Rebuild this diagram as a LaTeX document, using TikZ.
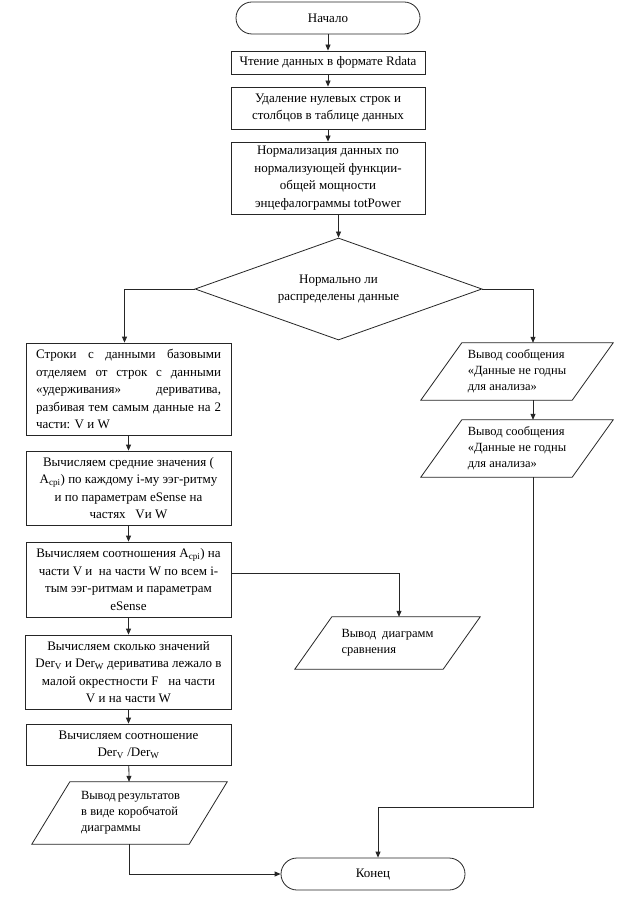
\documentclass[tikz,border=0pt]{standalone}
\usepackage{fontspec}
\setmainfont{Liberation Serif}
\usetikzlibrary{arrows.meta,shapes.geometric,calc}
\begin{document}
\begin{tikzpicture}[x=1pt,y=-1pt,
  font=\fontsize{13}{17.5}\selectfont,
  base/.style={draw=black!85, line width=0.8pt},
  proc/.style={base, rectangle, inner xsep=5pt, inner ysep=0pt, align=center, minimum width=194pt},
  lproc/.style={base, rectangle, inner xsep=10pt, inner ysep=0pt, align=center, minimum width=205pt},
  term/.style={base, rectangle, rounded corners=16pt, minimum width=184pt, minimum height=32pt},
  io/.style={rectangle, inner sep=0pt, align=left, font=\fontsize{12.5}{16}\selectfont},
  arr/.style={draw=black!85, line width=0.8pt, -{Triangle[length=6pt,width=5pt]}}
]
\fill[white] (0,0) rectangle (624,901);
\useasboundingbox (0,0) rectangle (624,901);

% top column
\node[term] (start) at (328,18) {Начало};
\node[proc, minimum height=23pt] (b1) at (328,62.5) {Чтение данных в формате Rdata};
\node[proc, minimum height=42pt] (b2) at (328,108) {Удаление нулевых строк и\\столбцов в таблице данных};
\node[proc, minimum height=72pt] (b3) at (328,178) {Нормализация данных по\\нормализующей функции-\\общей мощности\\энцефалограммы totPower};
\node[base, diamond, minimum width=287pt, minimum height=102pt, inner sep=0pt, aspect=2.8, align=center] (dec) at (338.5,289) {Нормально ли\\распределены данные};

% left column
\node[lproc, minimum height=92pt, align=left] (L1) at (128.5,389)
  {\makebox[185pt][s]{Строки с данными базовыми}\\
   \makebox[185pt][s]{отделяем от строк с данными}\\
   \makebox[185pt][s]{«удерживания» дериватива,}\\
   \makebox[185pt][s]{разбивая тем самым данные на 2}\\
   части: V и W};
\node[lproc, minimum height=74pt] (L2) at (128.5,488)
  {Вычисляем средние значения (\\A\textsubscript{срi}) по каждому i-му ээг-ритму\\и по параметрам eSense на\\частях\ \ \ Vи W};
\node[lproc, minimum height=75pt] (L3) at (128.5,579.5)
  {Вычисляем соотношения A\textsubscript{срi}) на\\части V и\ \ на части W по всем i-\\тым ээг-ритмам и параметрам\\eSense};
\node[lproc, minimum height=74pt] (L4) at (128.5,672)
  {Вычисляем сколько значений\\Der\textsubscript{V} и Der\textsubscript{W} дериватива лежало в\\малой окрестности F\ \ \ на части\\V и на части W};
\node[lproc, minimum height=41pt] (L5) at (128.5,744.5)
  {Вычисляем соотношение\\Der\textsubscript{V} /Der\textsubscript{W}};
\node[io, minimum width=195pt, minimum height=62pt] (LP) at (129.5,813)
  {\makebox[97pt][s]{Вывод результатов}\\
   \makebox[97pt][s]{в виде коробчатой}\\
   диаграммы};
\draw[base] ([xshift=38pt]LP.north west) -- (LP.north east) -- ([xshift=-38pt]LP.south east) -- (LP.south west) -- cycle;

% right column
\node[io, minimum width=192pt, minimum height=57pt] (R1) at (517,371.5)
  {Вывод сообщения\\«Данные не годны\\для анализа»};
\draw[base] ([xshift=41pt]R1.north west) -- (R1.north east) -- ([xshift=-41pt]R1.south east) -- (R1.south west) -- cycle;
\node[io, minimum width=192pt, minimum height=57pt] (R2) at (517,448.5)
  {Вывод сообщения\\«Данные не годны\\для анализа»};
\draw[base] ([xshift=41pt]R2.north west) -- (R2.north east) -- ([xshift=-41pt]R2.south east) -- (R2.south west) -- cycle;

% comparison output
\node[io, minimum width=185pt, minimum height=52pt] (C) at (387.5,643)
  {\makebox[92pt][s]{Вывод диаграмм}\\сравнения};
\draw[base] ([xshift=37pt]C.north west) -- (C.north east) -- ([xshift=-37pt]C.south east) -- (C.south west) -- cycle;

% end
\node[term] (stop) at (373,874) {Конец};

% connectors
\draw[arr] (start) -- (b1);
\draw[arr] (b1) -- (b2);
\draw[arr] (b2) -- (b3);
\draw[arr] (b3.south -| dec.north) -- (dec.north);
\draw[arr] (dec.west) -| ([xshift=-4pt]L1.north);
\draw[arr] (dec.east) -| ([xshift=16pt]R1.north);
\draw[arr] ([xshift=16pt]R1.south) -- ([xshift=16pt]R2.north);
\draw[arr] ([xshift=16pt]R2.south) -- ++(0,330) -| ([xshift=5pt]stop.north);
\draw[arr] (L1) -- (L2);
\draw[arr] (L2) -- (L3);
\draw[arr] (L3) -- (L4);
\draw[arr] (L4) -- (L5);
\draw[arr] (L5) -- (LP);
\draw[arr] ([yshift=6.5pt]L3.east) -| ([xshift=11.5pt]C.north);
\draw[arr] (LP.south) |- (stop.west);
\end{tikzpicture}
\end{document}
